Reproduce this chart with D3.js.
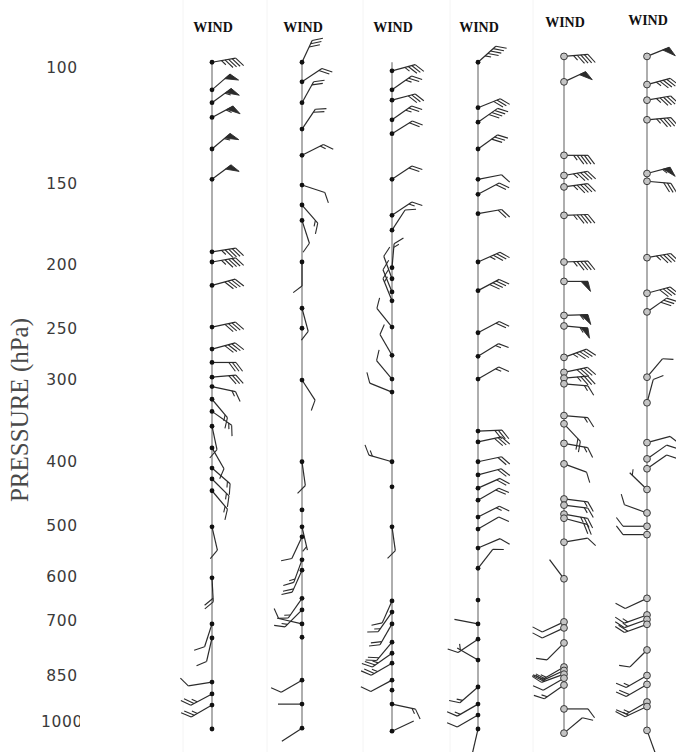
<!DOCTYPE html>
<html>
<head>
<meta charset="utf-8">
<script src="https://cdn.jsdelivr.net/npm/d3@7"></script>
<style>
  body { margin: 0; background: #fff; }
  svg { display: block; }
</style>
</head>
<body>
<svg id="chart" width="676" height="752"></svg>
<script>
// Pressure axis labels (hPa)
const pressureTicks = [100, 150, 200, 250, 300, 400, 500, 600, 700, 850, 1000];

// Each profile: [pressure hPa, wind direction deg (from), speed kt]
const profile1 = [
  [98, 80, 45], [108, 49, 50], [113, 54, 55], [119, 62, 55], [133, 50, 55], [148, 53, 50],
  [191, 81, 45], [198, 80, 45], [215, 75, 40], [249, 78, 40], [269, 75, 40], [282, 90, 30],
  [297, 85, 30], [307, 102, 15], [321, 140, 15], [335, 125, 15], [353, 168, 10], [381, 150, 10],
  [409, 131, 15], [425, 135, 15], [443, 140, 15], [503, 167, 10], [602, 177, 20], [708, 198, 10],
  [744, 193, 10], [869, 261, 10], [906, 242, 25], [942, 240, 25], [1025, 0, 0]
];
const profile2 = [
  [98, 25, 30], [105, 56, 20], [113, 29, 20], [124, 34, 20], [136, 63, 15], [151, 108, 10],
  [162, 139, 15], [171, 162, 10], [198, 180, 10], [233, 165, 10], [250, 0, 0], [300, 147, 10],
  [400, 172, 10], [474, 0, 0], [503, 167, 5], [521, 205, 10], [565, 200, 15], [586, 204, 20],
  [647, 215, 15], [674, 225, 15], [708, 283, 10], [742, 0, 0], [863, 240, 10], [939, 270, 2],
  [1022, 237, 2]
];
const profile3 = [
  [101, 75, 35], [108, 55, 25], [112, 75, 30], [120, 55, 25], [126, 58, 20], [148, 56, 20],
  [168, 56, 15], [177, 33, 10], [202, 5, 15], [210, 340, 10], [220, 338, 10], [227, 338, 15],
  [249, 321, 10], [275, 330, 10], [299, 320, 10], [313, 292, 10], [400, 286, 15], [437, 0, 0],
  [503, 172, 10], [653, 204, 10], [679, 215, 15], [708, 210, 20], [755, 220, 20], [785, 235, 25],
  [813, 240, 25], [863, 242, 10], [894, 0, 0], [939, 102, 15], [1033, 65, 2]
];
const profile4 = [
  [98, 48, 45], [115, 68, 30], [121, 55, 40], [133, 54, 30], [148, 79, 10], [156, 62, 20],
  [167, 80, 20], [198, 66, 35], [219, 62, 40], [254, 62, 20], [276, 58, 15], [299, 60, 15],
  [359, 88, 30], [373, 78, 30], [400, 78, 20], [419, 75, 20], [439, 66, 20], [458, 60, 20],
  [486, 63, 15], [507, 60, 10], [542, 67, 10], [582, 38, 10], [651, 0, 0], [708, 281, 2],
  [747, 236, 10], [804, 300, 5], [884, 229, 15], [939, 240, 15], [976, 240, 10], [1025, 193, 2]
];
const profile5 = [
  [96, 85, 45], [105, 65, 50], [136, 90, 45], [146, 80, 45], [152, 82, 45], [168, 88, 45],
  [198, 88, 45], [212, 90, 50], [239, 88, 55], [248, 95, 55], [277, 70, 45], [292, 78, 40],
  [298, 85, 35], [304, 95, 15], [340, 95, 15], [350, 137, 20], [375, 100, 15], [403, 110, 10],
  [456, 97, 15], [466, 97, 15], [481, 100, 25], [488, 105, 20], [531, 80, 10], [604, 323, 2],
  [703, 245, 10], [718, 245, 10], [757, 225, 10], [824, 240, 15], [834, 245, 20], [845, 250, 20],
  [857, 240, 10], [878, 235, 15], [955, 90, 10], [1040, 50, 10]
];
const profile6 = [
  [96, 68, 50], [106, 75, 45], [112, 80, 45], [120, 85, 45], [145, 75, 55], [149, 95, 30],
  [195, 80, 45], [221, 75, 40], [236, 55, 30], [297, 40, 10], [325, 15, 10], [374, 75, 10],
  [396, 55, 10], [410, 55, 10], [441, 314, 5], [479, 290, 10], [502, 270, 10], [517, 270, 10],
  [647, 245, 10], [686, 250, 15], [697, 250, 15], [709, 250, 20], [776, 225, 10], [849, 240, 15],
  [876, 240, 20], [932, 240, 15], [947, 245, 15], [1030, 160, 2]
];
const profiles = [profile1, profile2, profile3, profile4, profile5, profile6];
const columnTitles = ["WIND", "WIND", "WIND", "WIND", "WIND", "WIND"];

// ---- layout ----
const W = 676, H = 752;
const svg = d3.select("#chart");
svg.append("rect").attr("width", W).attr("height", H).attr("fill", "#fff");

const y = d3.scaleLog().domain([100, 1000]).range([68, 722]);
const x = d3.scaleOrdinal().domain(d3.range(6)).range([212, 302, 392, 478, 564, 647]);
const titleY = [32, 32, 32, 32, 27, 25];
const markerKind = ["dot", "dot", "dot", "dot", "ring", "ring"];
const panelEdges = [183, 267, 363, 450, 533];

// faint panel edges
svg.append("g").selectAll("line").data(panelEdges).join("line")
  .attr("x1", d => d).attr("x2", d => d).attr("y1", 0).attr("y2", H)
  .attr("stroke", "#f4f4f4").attr("stroke-width", 1);

// pressure axis labels
svg.append("clipPath").attr("id", "lblclip")
  .append("rect").attr("x", 0).attr("y", 0).attr("width", 80).attr("height", H);
const axis = d3.axisLeft(y).tickValues(pressureTicks).tickFormat(d3.format("d")).tickSize(0).tickPadding(0);
const axG = svg.append("g").call(axis);
axG.select(".domain").remove();
axG.attr("clip-path", "url(#lblclip)")
  .selectAll("g.tick").attr("transform", d => `translate(62,${y(d)})`);
axG.selectAll("text")
  .attr("text-anchor", "middle").attr("x", 0).attr("dy", "0.35em")
  .attr("font-family", "DejaVu Sans, sans-serif").attr("font-size", 15.5)
  .attr("letter-spacing", 0.6).attr("fill", "#3a3a3a");

svg.append("text")
  .attr("transform", "translate(22,410) rotate(-90)")
  .attr("text-anchor", "middle").attr("dominant-baseline", "middle")
  .attr("font-family", "Liberation Serif, Times New Roman, serif")
  .attr("font-size", 25).attr("fill", "#4a4a4a")
  .text("PRESSURE (hPa)");

// ---- wind barbs ----
const L = 24, B = 11, SP = 3.6, PW = 7;
const ink = "#2b2b2b";

function drawBarb(g, x0, y0, dir, spd) {
  if (spd <= 0) return;
  const t = dir * Math.PI / 180;
  const ux = Math.sin(t), uy = -Math.cos(t);
  const nx = -uy, ny = ux;
  const fx = 0.6 * ux + 0.8 * nx, fy = 0.6 * uy + 0.8 * ny;
  const at = s => [x0 + ux * s, y0 + uy * s];
  const [tx, ty] = at(L);
  g.append("line").attr("x1", x0).attr("y1", y0).attr("x2", tx).attr("y2", ty)
    .attr("stroke", ink).attr("stroke-width", 1.2);
  let s = Math.round(spd / 5) * 5;
  let pos = L;
  while (s >= 50) {
    const [ax, ay] = at(pos), [bx, by] = at(pos - PW);
    const ox = ax + ux * 2.5 + nx * 10, oy = ay + uy * 2.5 + ny * 10;
    g.append("path")
      .attr("d", `M${ax},${ay}L${ox},${oy}L${bx},${by}Z`)
      .attr("fill", ink).attr("stroke", ink).attr("stroke-width", 0.9)
      .attr("stroke-linejoin", "round");
    pos -= PW + 1;
    s -= 50;
  }
  while (s >= 10) {
    const [ax, ay] = at(pos);
    g.append("line").attr("x1", ax).attr("y1", ay).attr("x2", ax + fx * B).attr("y2", ay + fy * B)
      .attr("stroke", ink).attr("stroke-width", 1.1);
    pos -= SP;
    s -= 10;
  }
  if (s >= 5) {
    if (pos === L) pos -= SP;
    const [ax, ay] = at(pos);
    g.append("line").attr("x1", ax).attr("y1", ay).attr("x2", ax + fx * B * 0.55).attr("y2", ay + fy * B * 0.55)
      .attr("stroke", ink).attr("stroke-width", 1.1);
  }
}

profiles.forEach((prof, i) => {
  const cx = x(i);
  const g = svg.append("g");
  const pMin = Math.min(98, d3.min(prof, d => d[0]));
  const pMax = d3.max(prof, d => d[0]);
  g.append("line").attr("x1", cx).attr("x2", cx).attr("y1", y(pMin)).attr("y2", y(pMax))
    .attr("stroke", "#9a9a9a").attr("stroke-width", 1.6);

  g.append("text").attr("x", cx + 1).attr("y", titleY[i]).attr("text-anchor", "middle")
    .attr("font-family", "Liberation Serif, Times New Roman, serif").attr("font-weight", "bold")
    .attr("font-size", 14).attr("fill", "#111").text(columnTitles[i]);

  const bg = g.append("g");
  prof.forEach(([p, dir, spd]) => drawBarb(bg, cx, y(p), dir, spd));

  const mg = g.append("g");
  if (markerKind[i] === "dot") {
    mg.selectAll("circle").data(prof).join("circle")
      .attr("cx", cx).attr("cy", d => y(d[0])).attr("r", 2.4).attr("fill", "#111");
  } else {
    mg.selectAll("circle").data(prof).join("circle")
      .attr("cx", cx).attr("cy", d => y(d[0])).attr("r", 3.4)
      .attr("fill", "#c4c4c4").attr("stroke", "#3a3a3a").attr("stroke-width", 1);
  }
});
</script>
</body>
</html>
